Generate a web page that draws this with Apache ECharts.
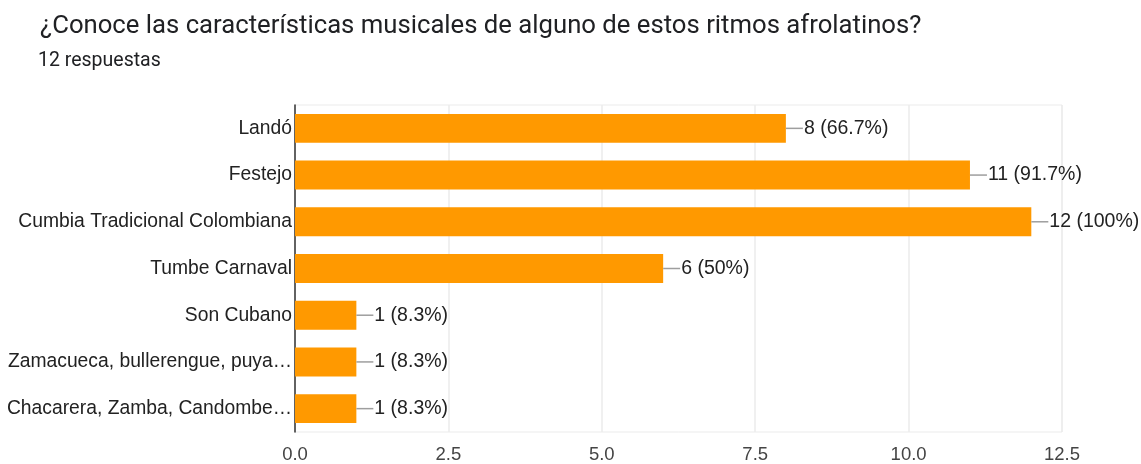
<!DOCTYPE html>
<html>
<head>
<meta charset="utf-8">
<script src="https://cdn.jsdelivr.net/npm/echarts@6/dist/echarts.min.js"></script>
<style>
  html, body { margin: 0; padding: 0; background: #fff; }
  #chart { width: 1141px; height: 464px; }
</style>
</head>
<body>
<div id="chart"></div>
<script>
const titleText = '¿Conoce las características musicales de alguno de estos ritmos afrolatinos?';
const subtitleText = '12 respuestas';
const categories = [
  'Landó',
  'Festejo',
  'Cumbia Tradicional Colombiana',
  'Tumbe Carnaval',
  'Son Cubano',
  'Zamacueca, bullerengue, puya…',
  'Chacarera, Zamba, Candombe…'
];
const counts = [8, 11, 12, 6, 1, 1, 1];
const percents = ['66.7%', '91.7%', '100%', '50%', '8.3%', '8.3%', '8.3%'];
const tickValues = [0, 2.5, 5, 7.5, 10, 12.5];

const chart = echarts.init(document.getElementById('chart'), null, { renderer: 'canvas' });

chart.setOption({
  animation: false,
  backgroundColor: '#ffffff',
  title: [
    {
      text: titleText,
      left: 35, top: 9,
      textStyle: { fontFamily: 'Roboto', fontSize: 25.7, fontWeight: 'normal', color: '#202124' }
    },
    {
      text: subtitleText,
      left: 33, top: 46,
      textStyle: { fontFamily: 'Roboto', fontSize: 19.5, fontWeight: 'normal', color: '#202124' }
    }
  ],
  grid: {
    left: 295, right: 79, top: 105, height: 329,
    show: true, borderColor: '#ebebeb', borderWidth: 1, backgroundColor: 'transparent'
  },
  xAxis: {
    type: 'value',
    min: 0, max: 12.5, interval: 2.5,
    axisLine: { show: false },
    axisTick: { show: false },
    splitLine: { show: true, lineStyle: { color: '#ebebeb', width: 1.5 } },
    axisLabel: {
      margin: 13,
      fontFamily: 'Liberation Sans', fontSize: 18.5, color: '#444',
      formatter: v => tickValues.includes(v) ? v.toFixed(1) : ''
    }
  },
  yAxis: {
    type: 'category',
    inverse: true,
    data: categories,
    axisLine: { show: true, lineStyle: { color: '#333', width: 1.5 } },
    axisTick: { show: false },
    axisLabel: { margin: 3, fontFamily: 'Liberation Sans', fontSize: 19.3, color: '#222' }
  },
  series: [{
    type: 'bar',
    data: counts,
    barCategoryGap: '38%',
    itemStyle: { color: '#ff9900' },
    label: {
      show: true,
      position: 'right',
      distance: 0,
      formatter: p => '{l| }{t|' + counts[p.dataIndex] + ' (' + percents[p.dataIndex] + ')}',
      rich: {
        l: { width: 17, height: 1.5, backgroundColor: '#9e9e9e' },
        t: { fontFamily: 'Liberation Sans', fontSize: 19.5, color: '#222', padding: [0, 0, 0, 1] }
      }
    }
  }]
});
</script>
</body>
</html>
